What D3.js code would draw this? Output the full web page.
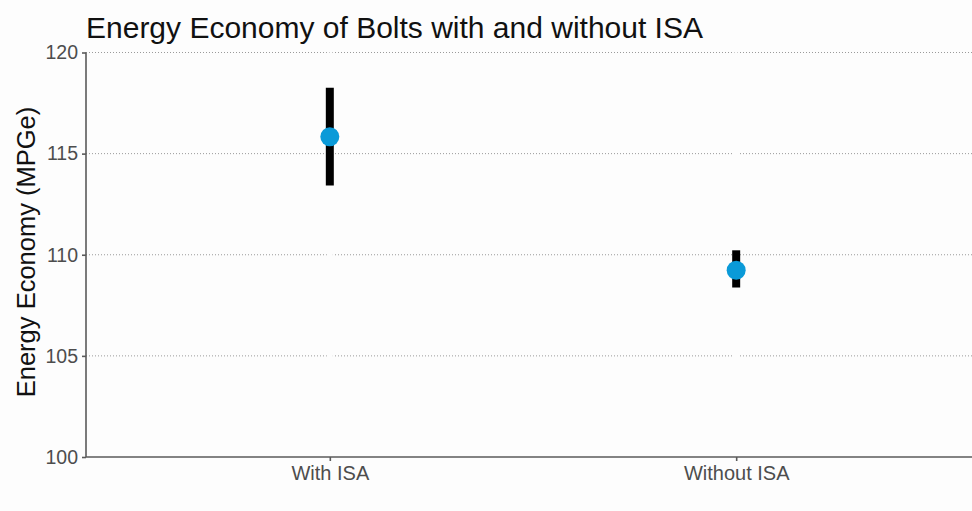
<!DOCTYPE html>
<html>
<head>
<meta charset="utf-8">
<script src="https://cdn.jsdelivr.net/npm/d3@7"></script>
<style>
  body { margin: 0; background: #fdfdfd; }
  text { font-family: "Liberation Sans", Arial, sans-serif; }
</style>
</head>
<body>
<div id="chart-area"></div>
<script>
// data
var groups = ["With ISA", "Without ISA"];
var means = [115.83, 109.23];
var lows = [113.43, 108.38];
var highs = [118.26, 110.22];
var yTicks = [100, 105, 110, 115, 120];

var W = 972, H = 511;
var margin = {top: 52.5, left: 86, bottom: 54, right: -8},
    width = W - margin.left - margin.right,
    height = H - margin.top - margin.bottom;

var svg = d3.select("#chart-area").append("svg")
    .attr("width", W)
    .attr("height", H)
    .style("display", "block");

svg.append("rect")
    .attr("width", W).attr("height", H)
    .attr("fill", "#fdfdfd");

var g = svg.append("g")
    .attr("transform", "translate(" + margin.left + ", " + margin.top + ")");

var x = d3.scalePoint().domain(groups).range([0, width]).padding(0.6);
var y = d3.scaleLinear().domain([100, 120]).range([height, 0]);

// dotted horizontal grid
g.selectAll(".hgrid")
    .data(yTicks.filter((d) => d > 100))
    .enter().append("line")
    .attr("class", "hgrid")
    .attr("x1", 0).attr("x2", width)
    .attr("y1", (d) => y(d)).attr("y2", (d) => y(d))
    .attr("stroke", "#9a9a9a")
    .attr("stroke-width", 1)
    .attr("stroke-dasharray", "1,2");

// white vertical grid breaking the dotted lines
g.selectAll(".vgrid")
    .data(groups)
    .enter().append("line")
    .attr("class", "vgrid")
    .attr("x1", (d) => x(d)).attr("x2", (d) => x(d))
    .attr("y1", 0).attr("y2", height)
    .attr("stroke", "#fdfdfd")
    .attr("stroke-width", 6);

// axes
var yAxis = g.append("g")
    .call(d3.axisLeft(y).tickValues(yTicks).tickSize(4).tickPadding(4));
var xAxis = g.append("g")
    .attr("transform", "translate(0, " + height + ")")
    .call(d3.axisBottom(x).tickSize(4).tickPadding(5));

[yAxis, xAxis].forEach((a) => {
    a.select(".domain").attr("stroke", "#5a5a5a").attr("stroke-width", 1.6);
    a.selectAll(".tick line").attr("stroke", "#5a5a5a").attr("stroke-width", 1.6);
    a.selectAll(".tick text")
        .attr("fill", "#4d4d4d")
        .style("font-family", "'Liberation Sans', Arial, sans-serif");
});
yAxis.selectAll(".tick text").style("font-size", "19.5px");
xAxis.selectAll(".tick text").style("font-size", "20px");
xAxis.select(".domain").attr("d", "M0,0H" + width);
yAxis.select(".domain").attr("d", "M0," + height + "V0");

// error bars
g.selectAll(".err")
    .data(groups)
    .enter().append("line")
    .attr("class", "err")
    .attr("x1", (d) => x(d)).attr("x2", (d) => x(d))
    .attr("y1", (d, i) => y(lows[i])).attr("y2", (d, i) => y(highs[i]))
    .attr("stroke", "#000")
    .attr("stroke-width", 8);

// points
g.selectAll(".pt")
    .data(groups)
    .enter().append("circle")
    .attr("class", "pt")
    .attr("cx", (d) => x(d))
    .attr("cy", (d, i) => y(means[i]))
    .attr("r", 9.5)
    .attr("fill", "#0a9ad8");

// titles
svg.append("text")
    .attr("x", 86).attr("y", 38)
    .attr("fill", "#111")
    .style("font-size", "30px")
    .text("Energy Economy of Bolts with and without ISA");

svg.append("text")
    .attr("transform", "translate(35, 252) rotate(-90)")
    .attr("text-anchor", "middle")
    .attr("fill", "#111")
    .style("font-size", "25.5px")
    .text("Energy Economy (MPGe)");
</script>
</body>
</html>
